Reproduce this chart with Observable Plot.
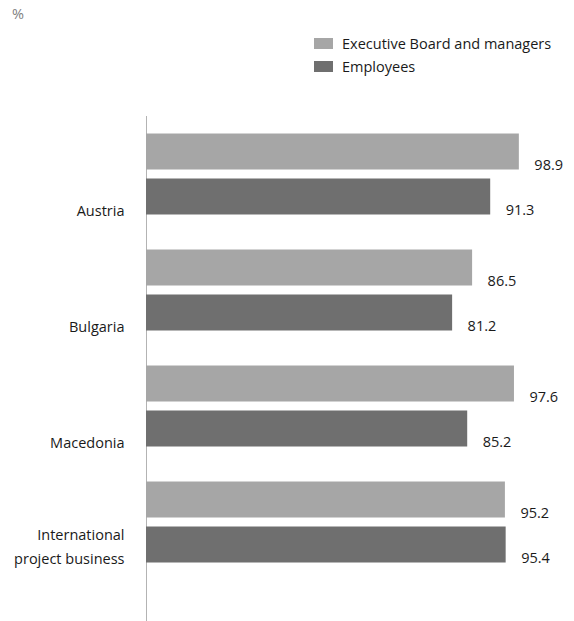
<!DOCTYPE html>
<html>
<head>
<meta charset="utf-8">
<script src="https://cdn.jsdelivr.net/npm/d3@7"></script>
<script src="https://cdn.jsdelivr.net/npm/@observablehq/plot@0.6"></script>
<style>
  body { margin: 0; background: #fff; font-family: "Open Sans", sans-serif; }
  #wrap { position: relative; width: 574px; }
  #head { position: relative; height: 100px; }
  #unit { position: absolute; left: 12px; top: 4px; font-size: 14.5px; color: #808080; }
  .leg { position: absolute; left: 314px; font-size: 14.5px; color: #1a1a1a; display: flex; align-items: center; height: 20px; }
  .sw { width: 19px; height: 11px; margin-right: 9px; }
</style>
</head>
<body>
<div id="wrap">
  <div id="head">
    <div id="unit">%</div>
    <div id="legend"></div>
  </div>
  <div id="chart"></div>
</div>
<script>
const countries = ["Austria", "Bulgaria", "Macedonia", "International\nproject business"];
const series = ["Executive Board and managers", "Employees"];
const execValues = [98.9, 86.5, 97.6, 95.2];
const empValues = [91.3, 81.2, 85.2, 95.4];
const colors = ["#a6a6a6", "#6f6f6f"];

const data = [];
countries.forEach((c, i) => {
  data.push({country: c, series: series[0], value: execValues[i]});
  data.push({country: c, series: series[1], value: empValues[i]});
});

const legend = document.getElementById("legend");
series.forEach((s, i) => {
  const row = document.createElement("div");
  row.className = "leg";
  row.style.top = (33 + i * 23) + "px";
  row.innerHTML = `<div class="sw" style="background:${colors[i]}"></div><span>${s}</span>`;
  legend.appendChild(row);
});

const chart = Plot.plot({
  width: 574,
  height: 521,
  marginTop: 16,
  marginBottom: 1,
  marginLeft: 146,
  marginRight: 51,
  style: {fontFamily: "Open Sans", fontSize: "14.5px", color: "#1a1a1a", background: "#fff"},
  x: {domain: [0, 100], axis: null},
  y: {domain: series, paddingInner: 0.2, paddingOuter: 0.389, round: false, axis: null},
  fy: {domain: countries, paddingInner: 0, paddingOuter: 0.1724, align: 0, round: false, axis: null, label: null},
  color: {domain: series, range: colors},
  marks: [
    Plot.frame({anchor: "left", facet: "super", insetBottom: -40, stroke: "#b3b3b3", strokeWidth: 1}),
    Plot.barX(data, {fy: "country", y: "series", x: "value", fill: "series"}),
    Plot.text(data, {fy: "country", y: "series", x: "value", text: d => d.value.toFixed(1),
      textAnchor: "start", dx: 15, dy: 13, fill: "#1a1a1a"}),
    Plot.text(countries, {fy: d => d, y: () => series[1], x: () => 0, text: d => d,
      textAnchor: "end", lineAnchor: "bottom", lineHeight: 1.65, dx: -22, dy: 19, fill: "#1a1a1a"})
  ]
});
document.getElementById("chart").appendChild(chart);
</script>
</body>
</html>
